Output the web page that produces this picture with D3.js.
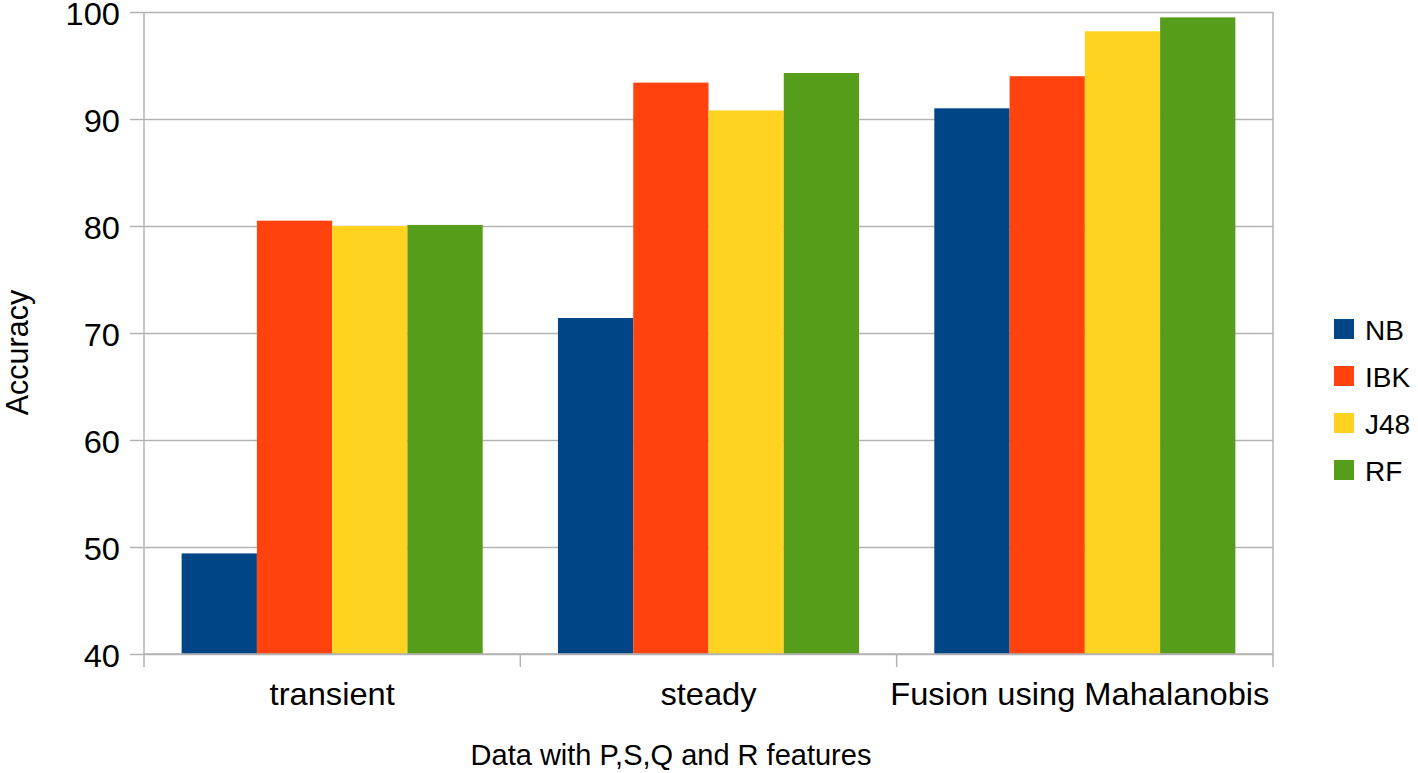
<!DOCTYPE html>
<html>
<head>
<meta charset="utf-8">
<script src="https://cdn.jsdelivr.net/npm/d3@7"></script>
<style>
html,body{margin:0;padding:0;background:#fff;}
svg text{font-family:"Liberation Sans",Arial,sans-serif;fill:#000;}
</style>
</head>
<body>
<svg id="chart" width="1418" height="773"></svg>
<script>
const categories = ["transient", "steady", "Fusion using Mahalanobis"];
const seriesNames = ["NB", "IBK", "J48", "RF"];
const NB  = [49.4, 71.4, 91.0];
const IBK = [80.5, 93.4, 94.0];
const J48 = [80.0, 90.8, 98.2];
const RF  = [80.1, 94.3, 99.5];
const yTicks = [40, 50, 60, 70, 80, 90, 100];
const colors = ["#004586", "#ff420e", "#ffd320", "#579d1c"];
const xTitle = "Data with P,S,Q and R features";
const yTitle = "Accuracy";

const seriesValues = [NB, IBK, J48, RF];
const svg = d3.select("#chart");
const L = 144, R = 1273, T = 12, B = 654;
const FS = 30.5, SX = 1.07;

const x0 = d3.scaleBand().domain(categories).range([L, R]).padding(0);
const bw = x0.bandwidth();
const x1 = d3.scaleBand().domain(seriesNames).range([bw * 0.1, bw * 0.9]).padding(0);
const y = d3.scaleLinear().domain([40, 100]).range([B, T]);

const gridColor = "#b3b3b3";

// gridlines + outside ticks
const yAxis = d3.axisLeft(y).tickValues(yTicks).tickSize(-(R - L)).tickSizeOuter(0).tickPadding(24).tickFormat(d3.format("d"));
const gy = svg.append("g").attr("transform", `translate(${L},0)`).call(yAxis);
gy.select(".domain").remove();
gy.selectAll(".tick line").attr("stroke", gridColor).attr("stroke-width", 1.5).attr("x1", -14);
gy.selectAll(".tick text").attr("font-size", FS).attr("font-family", "Liberation Sans, Arial, sans-serif").attr("fill", "#000")
  .attr("x", -24 / SX).attr("dy", "0.42em").attr("transform", `scale(${SX},1)`);

// frame lines
svg.append("line").attr("x1", L).attr("x2", L).attr("y1", T).attr("y2", B + 13).attr("stroke", gridColor).attr("stroke-width", 1.5);
svg.append("line").attr("x1", R).attr("x2", R).attr("y1", T).attr("y2", B).attr("stroke", gridColor).attr("stroke-width", 1.5);

// bars
const groups = svg.append("g").selectAll("g").data(categories).join("g")
  .attr("transform", d => `translate(${x0(d)},0)`);
groups.selectAll("rect")
  .data((c, ci) => seriesNames.map((s, si) => ({s, si, v: seriesValues[si][ci]})))
  .join("rect")
  .attr("x", d => x1(d.s))
  .attr("width", x1.bandwidth())
  .attr("y", d => y(d.v))
  .attr("height", d => y(40) - y(d.v))
  .attr("fill", d => colors[d.si]);

// x axis
const xAxis = d3.axisBottom(x0).tickSize(0).tickPadding(0);
const gx = svg.append("g").attr("transform", `translate(0,${B})`).call(xAxis);
gx.select(".domain").remove();
gx.selectAll(".tick text").attr("font-size", FS).attr("font-family", "Liberation Sans, Arial, sans-serif").attr("fill", "#000")
  .attr("y", 51).attr("dy", 0).attr("x", (d, i) => i === 2 ? -5 / SX : 0).attr("transform", `scale(${SX},1)`);
svg.append("line").attr("x1", L).attr("x2", R).attr("y1", B).attr("y2", B).attr("stroke", gridColor).attr("stroke-width", 1.5);
// boundary ticks
const bounds = categories.map(c => x0(c) + bw);
svg.append("g").selectAll("line").data(bounds).join("line")
  .attr("x1", d => d).attr("x2", d => d).attr("y1", B).attr("y2", B + 13)
  .attr("stroke", gridColor).attr("stroke-width", 1.5);

// titles
svg.append("text").attr("x", 671).attr("y", 765).attr("text-anchor", "middle").attr("font-size", 29).text(xTitle);
svg.append("text").attr("transform", `translate(27.5,352.5) rotate(-90)`).attr("text-anchor", "middle").attr("font-size", FS).text(yTitle);

// legend
const lg = svg.append("g").attr("transform", "translate(1334,319)");
const items = lg.selectAll("g").data(seriesNames).join("g").attr("transform", (d, i) => `translate(0,${i * 47})`);
items.append("rect").attr("width", 20).attr("height", 20).attr("fill", (d, i) => colors[i]);
items.append("text").attr("x", 31).attr("y", 21).attr("font-size", 28).text(d => d);
</script>
</body>
</html>
